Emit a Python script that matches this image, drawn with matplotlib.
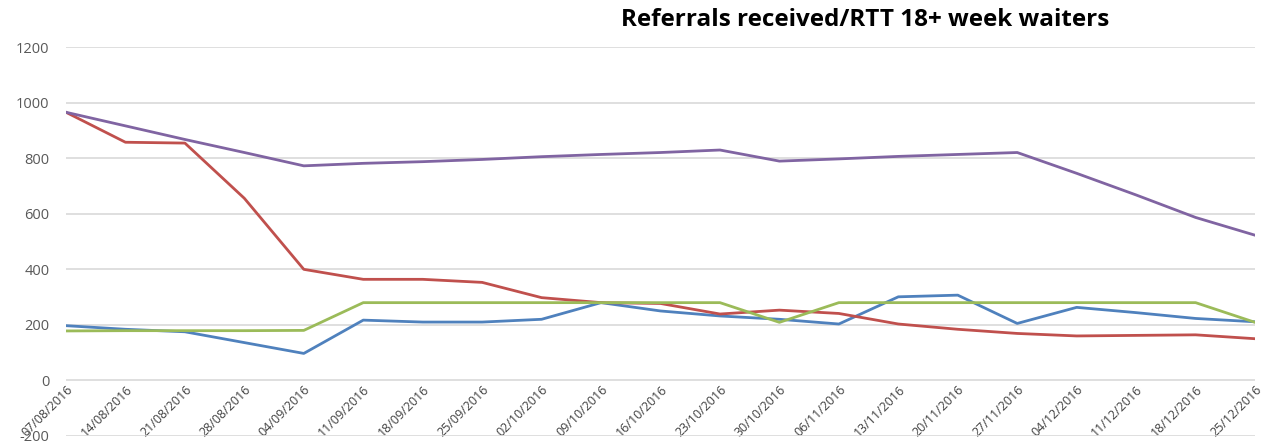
import matplotlib.pyplot as plt
import numpy as np

plt.rcParams['font.family'] = ['Open Sans', 'DejaVu Sans']

# weekly dates (x categories)
weeks = ["07/08/2016", "14/08/2016", "21/08/2016", "28/08/2016", "04/09/2016",
         "11/09/2016", "18/09/2016", "25/09/2016", "02/10/2016", "09/10/2016",
         "16/10/2016", "23/10/2016", "30/10/2016", "06/11/2016", "13/11/2016",
         "20/11/2016", "27/11/2016", "04/12/2016", "11/12/2016", "18/12/2016",
         "25/12/2016"]

blue_vals = [196, 183, 174, 135, 96, 216, 209, 209, 219, 279, 249,
             231, 219, 202, 300, 306, 204, 262, 243, 222, 210]
red_vals = [965, 857, 854, 655, 399, 363, 363, 352, 297, 279, 276,
            238, 252, 240, 202, 183, 168, 159, 161, 163, 149]
green_vals = [177, 178, 178, 178, 179, 279, 279, 279, 279, 279, 279,
              279, 208, 279, 279, 279, 279, 279, 279, 279, 208]
purple_vals = [965, 916, 867, 820, 772, 781, 787, 795, 805, 813, 820,
               829, 789, 797, 806, 813, 820, 745, 667, 586, 522]

yticks = [-200, 0, 200, 400, 600, 800, 1000, 1200]

fig = plt.figure(figsize=(12.69, 4.44), dpi=100)
ax = fig.add_axes([0.052, 0.019, 0.937, 0.875])

x = np.arange(len(weeks))
lw = 2.0
ax.plot(x, blue_vals, color='#4F81BD', lw=lw, zorder=3)
ax.plot(x, red_vals, color='#C0504D', lw=lw, zorder=3)
ax.plot(x, green_vals, color='#9BBB59', lw=lw, zorder=3)
ax.plot(x, purple_vals, color='#8064A2', lw=lw, zorder=3)

ax.set_xlim(0, len(weeks) - 1)
ax.set_ylim(-200, 1200)
ax.set_yticks(yticks)
ax.set_yticklabels([str(v) for v in yticks], fontsize=10.5, color='#595959')
ax.grid(axis='y', color='#D9D9D9', lw=1.2, zorder=0)
ax.set_axisbelow(True)

# x labels hang off the zero line, like the original
ax.spines['bottom'].set_position(('data', 0))
for s in ax.spines.values():
    s.set_visible(False)
ax.set_xticks(x)
ax.set_xticklabels(weeks, rotation=45, ha='right', rotation_mode='anchor',
                   fontsize=9, color='#404040')
ax.tick_params(axis='both', length=0)
ax.tick_params(axis='x', pad=2)
ax.tick_params(axis='y', pad=12)

fig.text(0.682, 0.955, "Referrals received/RTT 18+ week waiters",
         ha='center', va='center', fontsize=17.5, fontweight='bold', color='black')

fig.savefig('out.png', dpi=100)
